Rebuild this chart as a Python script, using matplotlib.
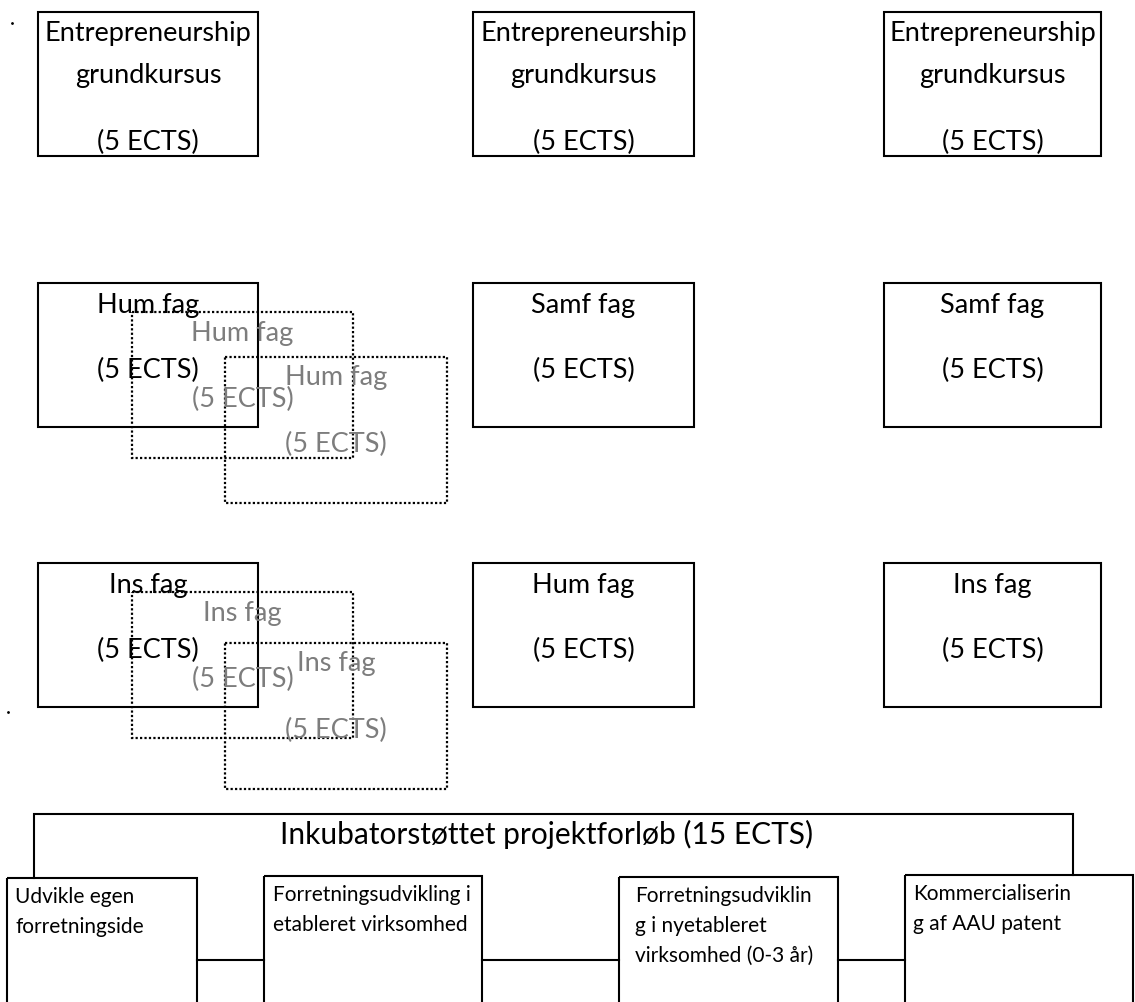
import matplotlib.pyplot as plt
from matplotlib.patches import Rectangle

plt.rcParams['font.family'] = ['Lato', 'DejaVu Sans']

# texts of the diagram
row1_labels = ['Entrepreneurship', 'Entrepreneurship', 'Entrepreneurship']
row1_sub = 'grundkursus'
ects = '(5 ECTS)'
row2_labels = ['Hum fag', 'Samf fag', 'Samf fag']
row3_labels = ['Ins fag', 'Hum fag', 'Ins fag']
ghost_labels = ['Hum fag', 'Ins fag']
project_title = 'Inkubatorstøttet projektforløb (15 ECTS)'
project_options = [
    ['Udvikle egen', 'forretningside'],
    ['Forretningsudvikling i', 'etableret virksomhed'],
    ['Forretningsudviklin', 'g i nyetableret', 'virksomhed (0-3 år)'],
    ['Kommercialiserin', 'g af AAU patent'],
]

# layout in pixels (y down)
W, H = 1135, 1002
col_x = [(38, 258), (473, 694), (884, 1101)]
row_top = [12, 283, 563]
box_h = 144
ghost_x = [(132, 353), (225, 447)]
ghost_dy = [[29, 74], [29, 80]]
opt_x = [(7, 197), (264, 482), (619, 838), (905, 1133)]
opt_top = [878, 876, 877, 875]
opt_text_x = [15, 273, 635, 913]

fig = plt.figure(figsize=(11.35, 10.02), dpi=100)
ax = fig.add_axes([0, 0, 1, 1])
ax.set_xlim(0, W)
ax.set_ylim(H, 0)
ax.axis('off')

FS = 19.5
FS_TITLE = 21.5
FS_SMALL = 15
GREY = '#7d7d7d'


def box(x0, x1, y0, y1, **kw):
    ax.add_patch(Rectangle((x0, y0), x1 - x0, y1 - y0, fill=False, **kw))


# row 1
for (x0, x1), lab in zip(col_x, row1_labels):
    y0 = row_top[0]
    box(x0, x1, y0, y0 + box_h, lw=1.5, ec='black')
    cx = (x0 + x1) / 2
    ax.text(cx, y0 + 21, lab, ha='center', va='center', fontsize=FS)
    ax.text(cx, y0 + 63, row1_sub, ha='center', va='center', fontsize=FS)
    ax.text(cx, y0 + 130, ects, ha='center', va='center', fontsize=FS)

# rows 2 and 3
for r, labels in enumerate([row2_labels, row3_labels]):
    y0 = row_top[r + 1]
    for (x0, x1), lab in zip(col_x, labels):
        box(x0, x1, y0, y0 + box_h, lw=1.5, ec='black')
        cx = (x0 + x1) / 2
        ax.text(cx, y0 + 22, lab, ha='center', va='center', fontsize=FS)
        ax.text(cx, y0 + 87, ects, ha='center', va='center', fontsize=FS)
    # stacked dotted copies of the first box
    for (gx0, gx1), dy in zip(ghost_x, ghost_dy[r]):
        gy = y0 + dy
        box(gx0, gx1, gy, gy + 146, lw=1.6, ec='black', ls=(0, (1, 1)))
        gcx = (gx0 + gx1) / 2
        ax.text(gcx, gy + 21, ghost_labels[r], ha='center', va='center',
                fontsize=FS, color=GREY)
        ax.text(gcx, gy + 87, ects, ha='center', va='center',
                fontsize=FS, color=GREY)

# project bracket
ax.plot([34, 34, 1073, 1073], [opt_top[0], 814, 814, opt_top[3]],
        color='black', lw=1.5, solid_joinstyle='miter')
ax.text(547, 834, project_title, ha='center', va='center', fontsize=FS_TITLE)

for i, ((x0, x1), top, lines) in enumerate(zip(opt_x, opt_top, project_options)):
    box(x0, x1, top, H + 20, lw=1.5, ec='black')
    for k, line in enumerate(lines):
        ax.text(opt_text_x[i], top + 19 + 30 * k, line, ha='left', va='center',
                fontsize=FS_SMALL)
    if i < len(opt_x) - 1:
        ax.plot([x1, opt_x[i + 1][0]], [960, 960], color='black', lw=1.5)

# scan specks
ax.plot([12, 8], [23, 712], 'k.', ms=2)

fig.savefig('out.png', dpi=100)
